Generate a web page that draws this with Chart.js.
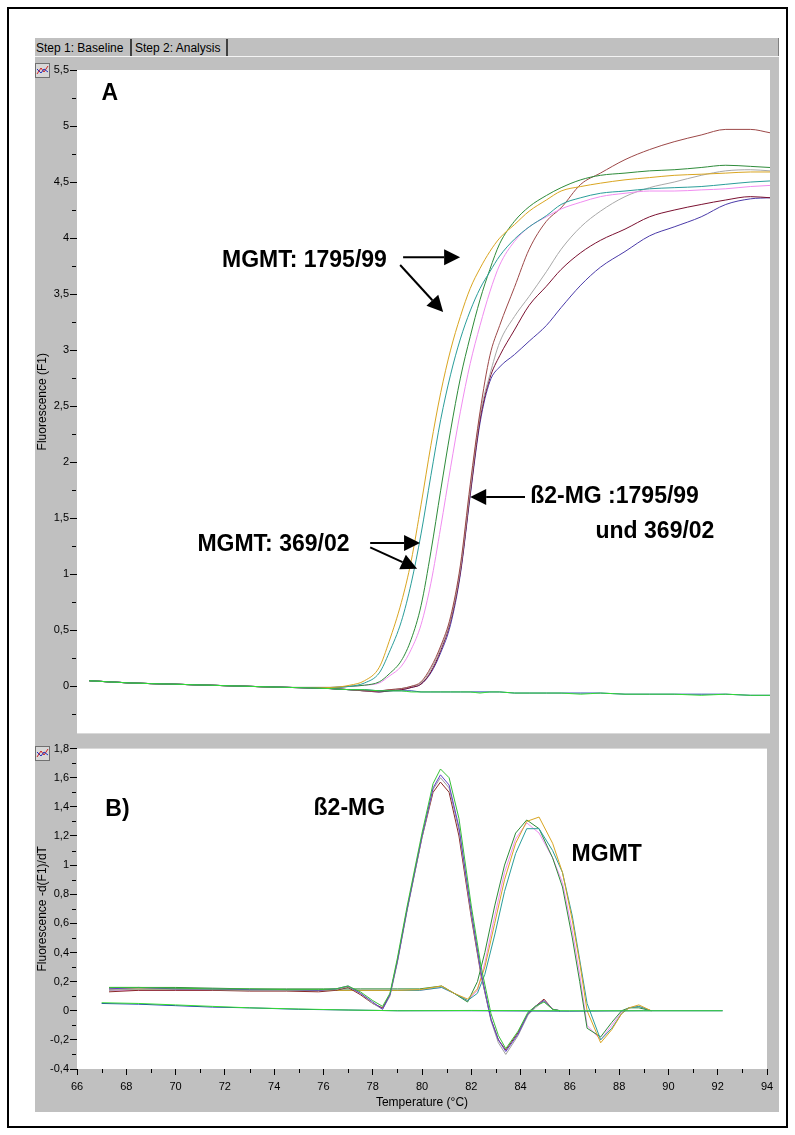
<!DOCTYPE html>
<html>
<head>
<meta charset="utf-8">
<script src="https://cdn.jsdelivr.net/npm/chart.js@4.4.1/dist/chart.umd.min.js"></script>
<style>
  body { margin: 0; background: #fff; width: 795px; height: 1135px; position: relative; overflow: hidden;
         font-family: "Liberation Sans", Arial, sans-serif; }
  #frame { position: absolute; left: 7px; top: 7px; width: 777px; height: 1117px; border: 2px solid #000; }
  #panel { position: absolute; left: 35px; top: 38px; width: 743px; height: 1074px; background: #c0c0c0;
           border-right: 1px solid #808080; }
  .tab { position: absolute; top: 41px; font-size: 12px; color: #000; }
  .sep { position: absolute; top: 39px; width: 2px; height: 17px; background: #404040; }
  #tabline { position: absolute; left: 35px; top: 56px; width: 744px; height: 1px; background: #f4f4f4; }
  canvas { position: absolute; }
</style>
</head>
<body>
<div id="frame"></div>
<div id="panel"></div>
<span class="tab" style="left:36px">Step 1: Baseline</span>
<div class="sep" style="left:130px"></div>
<span class="tab" style="left:135px">Step 2: Analysis</span>
<div class="sep" style="left:226px"></div>
<div id="tabline"></div>
<canvas id="amp" width="744" height="684" style="left:35px;top:57px"></canvas>
<canvas id="melt" width="744" height="371" style="left:35px;top:741px"></canvas>
<script>
// panel A: fluorescence F1 at these temperatures
const ampTemp = [66.5, 68.2, 69.8, 71.4, 73.0, 74.7, 76.3, 77.1, 77.7, 78.3, 78.7, 79.2, 79.6, 80.0,
  80.4, 80.8, 81.2, 81.6, 82.0, 82.4, 82.8, 83.2, 83.8, 84.4, 85.1, 85.7, 86.5, 87.3, 88.3, 89.3,
  90.3, 91.4, 92.4, 93.4, 94.2];

// MGMT samples
const ampOrange = [0.05, 0.03, 0.02, 0.01, 0.0, -0.01, -0.01, 0.01, 0.05, 0.17, 0.4, 0.75, 1.12, 1.62,
  2.15, 2.62, 3.0, 3.3, 3.55, 3.73, 3.88, 4.0, 4.12, 4.24, 4.34, 4.42, 4.46, 4.49, 4.52, 4.54,
  4.56, 4.57, 4.58, 4.59, 4.59];
const ampTeal = [0.05, 0.03, 0.02, 0.01, 0.0, -0.01, -0.01, 0.0, 0.03, 0.12, 0.3, 0.58, 0.92, 1.36,
  1.88, 2.38, 2.78, 3.1, 3.35, 3.55, 3.7, 3.84, 3.99, 4.1, 4.2, 4.3, 4.36, 4.4, 4.42, 4.44,
  4.45, 4.46, 4.48, 4.5, 4.51];
const ampGreen = [0.05, 0.03, 0.02, 0.01, 0.0, -0.01, -0.01, 0.0, 0.01, 0.04, 0.11, 0.23, 0.42, 0.72,
  1.2, 1.75, 2.28, 2.75, 3.12, 3.45, 3.72, 3.95, 4.15, 4.28, 4.38, 4.45, 4.52, 4.56, 4.58, 4.6,
  4.61, 4.63, 4.65, 4.64, 4.63];
const ampPink = [0.05, 0.03, 0.02, 0.01, 0.0, -0.01, -0.01, 0.0, 0.01, 0.03, 0.09, 0.18, 0.33, 0.55,
  0.92, 1.42, 1.95, 2.45, 2.88, 3.22, 3.52, 3.76, 3.97, 4.1, 4.19, 4.26, 4.32, 4.37, 4.4, 4.42,
  4.42, 4.43, 4.44, 4.46, 4.47];

// beta2-MG samples
const ampBrown = [0.05, 0.03, 0.02, 0.01, 0.0, -0.01, -0.02, -0.03, -0.04, -0.04, -0.03, -0.02, 0.0, 0.04,
  0.17, 0.36, 0.62, 1.08, 1.8, 2.45, 2.95, 3.22, 3.56, 3.9, 4.15, 4.27, 4.48, 4.58, 4.7, 4.79,
  4.86, 4.92, 4.97, 4.97, 4.94];
const ampGray = [0.05, 0.03, 0.02, 0.01, 0.0, -0.01, -0.02, -0.03, -0.04, -0.04, -0.03, -0.02, 0.0, 0.03,
  0.15, 0.34, 0.6, 1.05, 1.76, 2.42, 2.78, 3.07, 3.3, 3.48, 3.7, 3.9, 4.1, 4.24, 4.37, 4.45,
  4.5, 4.56, 4.6, 4.61, 4.6];
const ampMaroon = [0.05, 0.03, 0.02, 0.01, 0.0, -0.01, -0.02, -0.03, -0.04, -0.05, -0.04, -0.03, -0.01, 0.02,
  0.13, 0.32, 0.58, 1.02, 1.72, 2.38, 2.75, 2.95, 3.18, 3.4, 3.57, 3.72, 3.87, 3.98, 4.08, 4.19,
  4.25, 4.3, 4.34, 4.37, 4.36];
const ampPurple = [0.05, 0.03, 0.02, 0.01, 0.0, -0.01, -0.02, -0.03, -0.04, -0.05, -0.04, -0.03, -0.01, 0.02,
  0.12, 0.3, 0.55, 1.0, 1.7, 2.35, 2.72, 2.85, 2.96, 3.08, 3.22, 3.38, 3.58, 3.74, 3.88, 4.02,
  4.1, 4.19, 4.3, 4.35, 4.36];

// negative controls
const ampNegBlue = [0.05, 0.03, 0.02, 0.01, 0.0, -0.01, -0.02, -0.03, -0.03, -0.04, -0.04, -0.04, -0.04, -0.05,
  -0.05, -0.05, -0.05, -0.05, -0.05, -0.05, -0.05, -0.05, -0.06, -0.06, -0.06, -0.06, -0.06, -0.06,
  -0.07, -0.07, -0.07, -0.07, -0.07, -0.08, -0.08];
const ampNegGreen = [0.05, 0.03, 0.02, 0.01, 0.0, -0.01, -0.02, -0.03, -0.03, -0.04, -0.04, -0.04, -0.05, -0.05,
  -0.05, -0.05, -0.05, -0.05, -0.05, -0.06, -0.05, -0.05, -0.06, -0.06, -0.06, -0.06, -0.07, -0.06,
  -0.07, -0.07, -0.07, -0.08, -0.07, -0.08, -0.08];

// panel B: melting peaks -d(F1)/dT
const b2Temp = [67.3, 68.5, 70, 71.5, 73, 74.5, 75.8, 76.5, 77.0, 77.5, 78.0, 78.4, 78.7, 79.0, 79.4,
  80.0, 80.45, 80.75, 81.1, 81.5, 82.0, 82.4, 82.8, 83.1, 83.4, 83.9, 84.3, 84.6, 84.95, 85.3, 85.6];
const b2Green = [0.16, 0.16, 0.155, 0.15, 0.15, 0.145, 0.145, 0.15, 0.17, 0.13, 0.07, 0.03, 0.12, 0.36, 0.72,
  1.22, 1.56, 1.66, 1.6, 1.32, 0.72, 0.3, -0.02, -0.17, -0.26, -0.14, -0.01, 0.03, 0.06, 0.01, 0.0];
const b2Purple = [0.15, 0.16, 0.15, 0.15, 0.145, 0.145, 0.14, 0.15, 0.17, 0.12, 0.06, 0.01, 0.11, 0.34, 0.7,
  1.2, 1.53, 1.62, 1.55, 1.26, 0.68, 0.26, -0.06, -0.2, -0.28, -0.16, -0.02, 0.03, 0.07, 0.01, 0.0];
const b2Gray = [0.14, 0.15, 0.15, 0.145, 0.14, 0.14, 0.14, 0.145, 0.165, 0.12, 0.05, 0.01, 0.1, 0.33, 0.69,
  1.19, 1.52, 1.6, 1.53, 1.24, 0.66, 0.25, -0.07, -0.22, -0.3, -0.17, -0.03, 0.02, 0.07, 0.01, 0.0];
const b2Brown = [0.13, 0.14, 0.14, 0.14, 0.135, 0.135, 0.13, 0.14, 0.16, 0.11, 0.05, 0.02, 0.11, 0.34, 0.7,
  1.19, 1.5, 1.57, 1.5, 1.2, 0.64, 0.24, -0.06, -0.2, -0.27, -0.15, -0.02, 0.03, 0.08, 0.01, 0.0];

const mgTemp = [67.3, 68.5, 70, 71.5, 73, 74.5, 76, 77.5, 79, 79.9, 80.8, 81.3, 81.85, 82.25, 82.55,
  82.95, 83.35, 83.8, 84.25, 84.75, 85.3, 85.7, 86.1, 86.4, 86.7, 87.25, 87.7, 88.1, 88.4, 88.8, 89.3];
const mgOrange = [0.15, 0.15, 0.15, 0.145, 0.14, 0.14, 0.14, 0.14, 0.14, 0.145, 0.17, 0.12, 0.08, 0.15, 0.3,
  0.6, 0.9, 1.15, 1.3, 1.33, 1.15, 0.95, 0.62, 0.33, 0.0, -0.22, -0.13, -0.02, 0.02, 0.04, 0.0];
const mgTeal = [0.15, 0.15, 0.15, 0.145, 0.14, 0.14, 0.14, 0.14, 0.14, 0.14, 0.16, 0.12, 0.07, 0.12, 0.25,
  0.52, 0.82, 1.08, 1.25, 1.25, 1.1, 0.95, 0.65, 0.35, 0.05, -0.2, -0.12, -0.02, 0.02, 0.03, 0.0];
const mgGreen = [0.16, 0.16, 0.16, 0.155, 0.15, 0.15, 0.15, 0.15, 0.15, 0.15, 0.17, 0.12, 0.06, 0.2, 0.4,
  0.72, 1.0, 1.22, 1.31, 1.25, 1.05, 0.85, 0.5, 0.2, -0.12, -0.18, -0.08, 0.0, 0.02, 0.02, 0.0];
const mgPink = [0.14, 0.14, 0.14, 0.14, 0.14, 0.14, 0.14, 0.14, 0.14, 0.14, 0.16, 0.12, 0.07, 0.14, 0.33,
  0.65, 0.95, 1.18, 1.29, 1.22, 1.05, 0.88, 0.55, 0.25, -0.1, -0.2, -0.1, -0.01, 0.02, 0.03, 0.0];

const negTemp = [67.0, 68.5, 70, 71.5, 73, 75, 77, 79, 82, 86, 89, 92.2];
const negBlue = [0.05, 0.045, 0.035, 0.025, 0.02, 0.01, 0.005, 0.0, 0.0, -0.003, 0.0, 0.0];
const negGreen = [0.055, 0.05, 0.04, 0.03, 0.02, 0.012, 0.005, 0.0, 0.002, 0.0, 0.0, 0.0];

// labels and arrows, placed in data units
const ampNotes = [['A', 67.0, 5.29], ['MGMT: 1795/99', 71.9, 3.8], ['MGMT: 369/02', 70.9, 1.26],
  ['ß2-MG :1795/99', 84.44, 1.69], ['und 369/02', 87.1, 1.38]];
const ampArrows = [[79.27, 3.83, 81.59, 3.83], [79.15, 3.76, 80.9, 3.34], [77.93, 1.28, 79.96, 1.28],
  [77.93, 1.24, 79.84, 1.05], [84.23, 1.69, 82.0, 1.69]];
const meltNotes = [['B)', 67.15, 1.38], ['ß2-MG', 75.6, 1.39], ['MGMT', 86.07, 1.07]];

const FONT = '"Liberation Sans", Arial, sans-serif';

function line(xs, ys, color, smooth) {
  return {
    data: xs.map((x, i) => ({ x: x, y: ys[i] })),
    borderColor: color, borderWidth: 1, pointRadius: 0, fill: false, tension: 0,
    cubicInterpolationMode: smooth ? 'monotone' : 'default'
  };
}

function comma(v) {
  return String(v).replace('.', ',');
}

function arrow(ctx, x1, y1, x2, y2) {
  const a = Math.atan2(y2 - y1, x2 - x1), len = 16, half = 8;
  const bx = x2 - len * Math.cos(a), by = y2 - len * Math.sin(a);
  ctx.beginPath();
  ctx.moveTo(x1, y1);
  ctx.lineTo(bx, by);
  ctx.stroke();
  ctx.beginPath();
  ctx.moveTo(x2, y2);
  ctx.lineTo(bx + half * Math.sin(a), by - half * Math.cos(a));
  ctx.lineTo(bx - half * Math.sin(a), by + half * Math.cos(a));
  ctx.closePath();
  ctx.fill();
}

// grey window background, white plot area, little chart icon, short minor ticks
const winLook = {
  id: 'winLook',
  beforeDraw(chart, args, opts) {
    const { ctx, chartArea: a } = chart;
    ctx.save();
    ctx.fillStyle = '#c0c0c0';
    ctx.fillRect(0, 0, chart.width, chart.height);
    ctx.fillStyle = '#fff';
    ctx.fillRect(a.left, a.top, a.right - a.left, a.bottom - a.top);
    const iy = opts.iconY;
    ctx.fillStyle = '#d8d8d8';
    ctx.fillRect(0, iy, 15, 15);
    ctx.strokeStyle = '#707070';
    ctx.strokeRect(0.5, iy + 0.5, 14, 14);
    ctx.strokeStyle = '#d02020';
    ctx.beginPath();
    ctx.moveTo(2, iy + 11); ctx.lineTo(6, iy + 5); ctx.lineTo(9, iy + 9); ctx.lineTo(13, iy + 3);
    ctx.stroke();
    ctx.strokeStyle = '#2030c0';
    ctx.beginPath();
    ctx.moveTo(2, iy + 6); ctx.lineTo(6, iy + 10); ctx.lineTo(9, iy + 6); ctx.lineTo(13, iy + 9);
    ctx.stroke();
    ctx.restore();
  },
  afterDraw(chart, args, opts) {
    const { ctx, chartArea: a } = chart;
    ctx.save();
    ctx.strokeStyle = '#000';
    ctx.lineWidth = 1;
    const y = chart.scales.y;
    y.ticks.forEach((t, i) => {
      if (t.label !== '') return;
      const py = Math.round(y.getPixelForTick(i)) + 0.5;
      ctx.beginPath(); ctx.moveTo(a.left - 5, py); ctx.lineTo(a.left - 1, py); ctx.stroke();
    });
    const x = chart.scales.x;
    if (x.options.display) {
      x.ticks.forEach((t, i) => {
        if (t.label !== '') return;
        const px = Math.round(x.getPixelForTick(i)) + 0.5;
        ctx.beginPath(); ctx.moveTo(px, a.bottom); ctx.lineTo(px, a.bottom + 4); ctx.stroke();
      });
    }
    ctx.restore();
  },
  afterDatasetsDraw(chart, args, opts) {
    const { ctx, scales } = chart;
    ctx.save();
    ctx.fillStyle = '#000';
    ctx.strokeStyle = '#000';
    ctx.lineWidth = 2;
    ctx.font = 'bold 23px ' + FONT;
    ctx.textBaseline = 'middle';
    ctx.textAlign = 'left';
    (opts.notes || []).forEach(n => {
      ctx.fillText(n[0], scales.x.getPixelForValue(n[1]), scales.y.getPixelForValue(n[2]));
    });
    (opts.arrows || []).forEach(r => {
      arrow(ctx, scales.x.getPixelForValue(r[0]), scales.y.getPixelForValue(r[1]),
        scales.x.getPixelForValue(r[2]), scales.y.getPixelForValue(r[3]));
    });
    ctx.restore();
  }
};

const tickFont = { family: FONT, size: 11 };
const titleFont = { family: FONT, size: 12 };

new Chart(document.getElementById('amp'), {
  type: 'line',
  data: {
    datasets: [
      line(ampTemp, ampNegGreen, '#33dd33', true),
      line(ampTemp, ampNegBlue, '#2040b0', true),
      line(ampTemp, ampOrange, '#d9a521', true),
      line(ampTemp, ampTeal, '#2a9d9a', true),
      line(ampTemp, ampGreen, '#2e8b3a', true),
      line(ampTemp, ampPink, '#f08cf0', true),
      line(ampTemp, ampBrown, '#9c4848', true),
      line(ampTemp, ampGray, '#a8a8a8', true),
      line(ampTemp, ampMaroon, '#7a1030', true),
      line(ampTemp, ampPurple, '#4a3aa8', true)
    ]
  },
  options: {
    responsive: false, animation: false, devicePixelRatio: 1,
    layout: { padding: { top: 13, right: 9, bottom: 6, left: 0 } },
    plugins: {
      legend: { display: false }, tooltip: { enabled: false },
      winLook: { iconY: 6, notes: ampNotes, arrows: ampArrows }
    },
    scales: {
      x: { type: 'linear', min: 66, max: 94.2, display: false },
      y: {
        min: -0.42, max: 5.5,
        afterFit(s) { s.width = 42; },
        border: { display: false },
        grid: {
          drawOnChartArea: false, tickLength: 7,
          tickColor: c => (Math.round(c.tick.value * 4) % 2 === 0 ? '#000' : 'rgba(0,0,0,0)')
        },
        ticks: {
          stepSize: 0.25, includeBounds: false, autoSkip: false, padding: 1,
          color: '#000', font: tickFont,
          callback: v => (Math.round(v * 4) % 2 === 0 ? comma(Math.round(v * 10) / 10) : '')
        },
        title: { display: true, text: 'Fluorescence (F1)', color: '#000', font: titleFont, padding: { top: 0, bottom: 0 } }
      }
    }
  },
  plugins: [winLook]
});

new Chart(document.getElementById('melt'), {
  type: 'line',
  data: {
    datasets: [
      line(negTemp, negGreen, '#33dd33', false),
      line(negTemp, negBlue, '#2040b0', false),
      line(b2Temp, b2Green, '#38c038', false),
      line(b2Temp, b2Purple, '#6040c8', false),
      line(b2Temp, b2Gray, '#a0a0a0', false),
      line(b2Temp, b2Brown, '#8a2828', false),
      line(mgTemp, mgOrange, '#d9a521', false),
      line(mgTemp, mgTeal, '#2a9d9a', false),
      line(mgTemp, mgGreen, '#2e8b3a', false),
      line(mgTemp, mgPink, '#f08cf0', false)
    ]
  },
  options: {
    responsive: false, animation: false, devicePixelRatio: 1,
    layout: { padding: { top: 7, right: 12, bottom: 0, left: 0 } },
    plugins: {
      legend: { display: false }, tooltip: { enabled: false },
      winLook: { iconY: 5, notes: meltNotes, arrows: [] }
    },
    scales: {
      x: {
        type: 'linear', min: 66, max: 94,
        afterFit(s) { s.height = 43; },
        border: { display: false },
        grid: {
          drawOnChartArea: false, tickLength: 6,
          tickColor: c => (Math.round(c.tick.value) % 2 === 0 ? '#000' : 'rgba(0,0,0,0)')
        },
        ticks: {
          stepSize: 1, autoSkip: false, maxRotation: 0, padding: 5, color: '#000', font: tickFont,
          callback: v => (Math.round(v) % 2 === 0 ? String(Math.round(v)) : '')
        },
        title: { display: true, text: 'Temperature (°C)', color: '#000', font: titleFont, padding: { top: 0, bottom: 2 } }
      },
      y: {
        min: -0.4, max: 1.8,
        afterFit(s) { s.width = 42; },
        border: { display: false },
        grid: {
          drawOnChartArea: false, tickLength: 7,
          tickColor: c => (Math.round(c.tick.value * 10) % 2 === 0 ? '#000' : 'rgba(0,0,0,0)')
        },
        ticks: {
          stepSize: 0.1, autoSkip: false, padding: 1, color: '#000', font: tickFont,
          callback: v => (Math.round(v * 10) % 2 === 0 ? comma(Math.round(v * 10) / 10) : '')
        },
        title: { display: true, text: 'Fluorescence -d(F1)/dT', color: '#000', font: titleFont, padding: { top: 0, bottom: 0 } }
      }
    }
  },
  plugins: [winLook]
});
</script>
</body>
</html>
